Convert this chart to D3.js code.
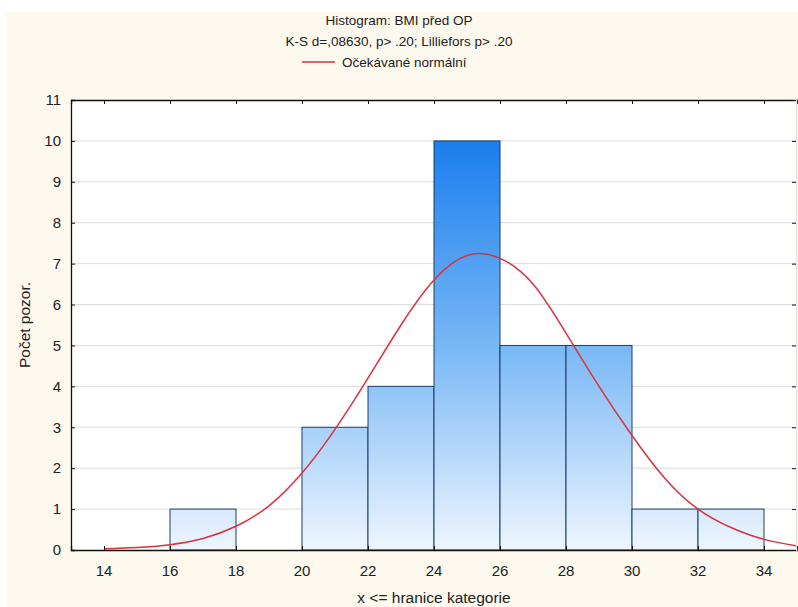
<!DOCTYPE html>
<html>
<head>
<meta charset="utf-8">
<script src="https://cdn.jsdelivr.net/npm/d3@7"></script>
<style>
  body { margin: 0; background: #fff; }
  svg { display: block; font-family: "Liberation Sans", Arial, sans-serif; }
</style>
</head>
<body>
<svg id="chart" width="798" height="607"></svg>
<script>
// histogram bins (lower edge, upper edge) and counts
var binStarts = [14, 16, 18, 20, 22, 24, 26, 28, 30, 32];
var binEnds   = [16, 18, 20, 22, 24, 26, 28, 30, 32, 34];
var counts    = [0, 1, 0, 3, 4, 10, 5, 5, 1, 1];

// expected normal curve
var curveX = [14, 15, 16, 17, 18, 19, 20, 21, 22, 23, 24, 25, 26, 27, 28, 29, 30, 31, 32, 33, 34, 35];
var curveY = [0.03, 0.06, 0.13, 0.28, 0.58, 1.08, 1.88, 2.95, 4.2, 5.5, 6.6, 7.2, 7.13, 6.5, 5.3, 4.0, 2.8, 1.75, 1.0, 0.55, 0.26, 0.1];

var xTicks = [14, 16, 18, 20, 22, 24, 26, 28, 30, 32, 34];
var yTicks = [0, 1, 2, 3, 4, 5, 6, 7, 8, 9, 10, 11];

var titleLines = ["Histogram: BMI před OP", "K-S d=,08630, p> .20; Lilliefors p> .20"];
var legendLabel = "Očekávané normální";
var xTitle = "x <= hranice kategorie";
var yTitle = "Počet pozor.";

var svg = d3.select("#chart"),
    width = +svg.attr("width"),
    height = +svg.attr("height");

var margin = {top: 100, left: 71, bottom: 57, right: 0};

// cream panel
svg.append("rect")
    .attr("x", 6).attr("y", 12)
    .attr("width", width - 6).attr("height", height - 12)
    .attr("fill", "#fdf9ee");

var x = d3.scaleLinear().domain([13, 35]).range([margin.left, margin.left + 726]);
var y = d3.scaleLinear().domain([0, 11]).range([height - margin.bottom, margin.top]);

var defs = svg.append("defs");
var grad = defs.append("linearGradient")
    .attr("id", "barGrad")
    .attr("gradientUnits", "userSpaceOnUse")
    .attr("x1", 0).attr("x2", 0)
    .attr("y1", y(10)).attr("y2", y(0));
grad.append("stop").attr("offset", "0%").attr("stop-color", "#1a7eee");
grad.append("stop").attr("offset", "50%").attr("stop-color", "#78b7f5");
grad.append("stop").attr("offset", "100%").attr("stop-color", "#eef6fe");

defs.append("clipPath").attr("id", "plotClip")
  .append("rect")
    .attr("x", x.range()[0]).attr("y", y(11))
    .attr("width", x.range()[1] - x.range()[0]).attr("height", y(0) - y(11));

// plot background
svg.append("rect")
    .attr("x", x.range()[0]).attr("y", y(11))
    .attr("width", x.range()[1] - x.range()[0]).attr("height", y(0) - y(11))
    .attr("fill", "#fff");

// gridlines
svg.append("g")
  .selectAll("line")
  .data(yTicks.filter(d => d > 0 && d < 11))
  .enter().append("line")
    .attr("x1", x.range()[0]).attr("x2", x.range()[1])
    .attr("y1", d => y(d)).attr("y2", d => y(d))
    .attr("stroke", "#dcdcdc")
    .attr("stroke-width", 1);

var bins = binStarts.map((d, i) => ({x0: d, x1: binEnds[i], n: counts[i]}));

svg.append("g")
  .selectAll("rect")
  .data(bins.filter(d => d.n > 0))
  .enter().append("rect")
    .attr("x", d => x(d.x0))
    .attr("y", d => y(d.n))
    .attr("width", d => x(d.x1) - x(d.x0))
    .attr("height", d => y(0) - y(d.n))
    .attr("fill", "url(#barGrad)")
    .attr("stroke", "#1d3d6b")
    .attr("stroke-width", 1);

var pts = curveX.map((d, i) => [d, curveY[i]]);
var line = d3.line()
    .x(d => x(d[0]))
    .y(d => y(d[1]))
    .curve(d3.curveNatural);

svg.append("path")
    .datum(pts)
    .attr("clip-path", "url(#plotClip)")
    .attr("d", line)
    .attr("fill", "none")
    .attr("stroke", "#d8323f")
    .attr("stroke-width", 1.5);

// axes, ticks pointing inward
var axisBottom = svg.append("g")
    .attr("transform", "translate(0," + y(0) + ")")
    .call(d3.axisTop(x).tickValues(xTicks).tickSize(4).tickFormat(""));
var axisTopG = svg.append("g")
    .attr("transform", "translate(0," + y(11) + ")")
    .call(d3.axisBottom(x).tickValues(xTicks).tickSize(4).tickFormat(""));
var axisLeft = svg.append("g")
    .attr("transform", "translate(" + x.range()[0] + ",0)")
    .call(d3.axisRight(y).tickValues(yTicks).tickSize(4).tickFormat(""));
var axisRight = svg.append("g")
    .attr("transform", "translate(" + (x.range()[1] - 1) + ",0)")
    .call(d3.axisLeft(y).tickValues(yTicks).tickSize(4).tickFormat(""));

[axisBottom, axisTopG, axisLeft, axisRight].forEach(g => {
  g.selectAll("path").attr("stroke", "#111").attr("stroke-width", 1.3);
  g.selectAll("line").attr("stroke", "#111");
});
axisRight.select("path").attr("stroke", "#e6e6e6");

// tick labels
svg.append("g")
  .selectAll("text")
  .data(xTicks)
  .enter().append("text")
    .attr("x", d => x(d))
    .attr("y", y(0) + 26)
    .attr("text-anchor", "middle")
    .attr("font-size", "15px")
    .attr("fill", "#222")
    .text(d => d);

svg.append("g")
  .selectAll("text")
  .data(yTicks)
  .enter().append("text")
    .attr("x", x.range()[0] - 10)
    .attr("y", d => y(d))
    .attr("dy", "0.35em")
    .attr("text-anchor", "end")
    .attr("font-size", "15px")
    .attr("fill", "#222")
    .text(d => d);

// titles
svg.append("g")
  .selectAll("text")
  .data(titleLines)
  .enter().append("text")
    .attr("x", 399)
    .attr("y", (d, i) => 25 + i * 21)
    .attr("text-anchor", "middle")
    .attr("font-size", "13.5px")
    .attr("fill", "#222")
    .text(d => d);

svg.append("line")
    .attr("x1", 302).attr("x2", 335)
    .attr("y1", 62).attr("y2", 62)
    .attr("stroke", "#d8323f")
    .attr("stroke-width", 1.5);
svg.append("text")
    .attr("x", 342).attr("y", 67)
    .attr("font-size", "13.5px")
    .attr("fill", "#222")
    .text(legendLabel);

svg.append("text")
    .attr("x", (x.range()[0] + x.range()[1]) / 2)
    .attr("y", 603)
    .attr("text-anchor", "middle")
    .attr("font-size", "15.5px")
    .attr("fill", "#222")
    .text(xTitle);

svg.append("text")
    .attr("transform", "translate(30," + ((y(0) + y(11)) / 2) + ") rotate(-90)")
    .attr("text-anchor", "middle")
    .attr("font-size", "15.5px")
    .attr("fill", "#222")
    .text(yTitle);
</script>
</body>
</html>
